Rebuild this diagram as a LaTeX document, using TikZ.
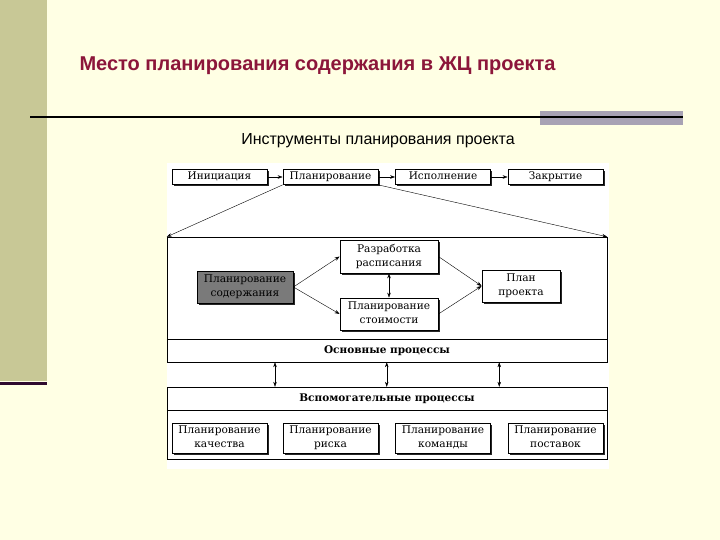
\documentclass[tikz,border=0pt]{standalone}
\usepackage{fontspec}
\setmainfont{DejaVu Serif}
\newfontfamily\slidefont{Liberation Sans}
\usetikzlibrary{arrows.meta,shadows,calc}

\definecolor{slidebg}{RGB}{255,255,228}
\definecolor{olivebar}{RGB}{200,200,150}
\definecolor{darkplum}{RGB}{46,10,46}
\definecolor{titlered}{RGB}{140,22,58}
\definecolor{rulegray}{RGB}{168,162,180}

\tikzset{
  phase/.style={draw, thick, fill=white, minimum width=95pt, minimum height=15pt,
    inner sep=0pt, text height=7.5pt, text depth=2pt, font=\fontsize{10.5}{11}\selectfont,
    drop shadow={shadow xshift=1.5pt, shadow yshift=-1.5pt, fill=black, opacity=0.85}},
  proc/.style={draw, thick, fill=white, minimum width=98pt, minimum height=32pt,
    inner sep=0pt, align=center, text depth=2.5pt, font=\fontsize{10.6}{14}\selectfont,
    drop shadow={shadow xshift=1.5pt, shadow yshift=-1.5pt, fill=black, opacity=0.85}},
  grouplbl/.style={font=\bfseries\fontsize{10.5}{11}\selectfont},
  arr/.style={-{Stealth[length=5pt,width=3.5pt]}},
  darr/.style={{Stealth[length=5pt,width=3.5pt]}-{Stealth[length=5pt,width=3.5pt]}},
}

\begin{document}
\begin{tikzpicture}[x=1pt,y=-1pt]
  \useasboundingbox (0,0) rectangle (720,540);
  \fill[slidebg] (0,0) rectangle (720,540);
  % slide decoration
  \fill[olivebar] (0,0) rectangle (47,381);
  \fill[darkplum] (0,381.5) rectangle (47,385);
  \fill[rulegray] (540,111) rectangle (683,125);
  \draw[line width=1.8pt] (30,117) -- (683,117);
  \node[anchor=west, text=titlered, font=\slidefont\bfseries\fontsize{20}{22}\selectfont] (title) at (76,66)
    {Место планирования содержания в ЖЦ проекта};
  \node[font=\slidefont\fontsize{16}{18}\selectfont] (subtitle) at (378,141)
    {Инструменты планирования проекта};

  % picture area
  \fill[white] (167,163) rectangle (609,469);

  % phases
  \node[phase] (init) at (219.5,177) {Инициация};
  \node[phase] (plan) at (330.5,177) {Планирование};
  \node[phase] (exec) at (443,177)   {Исполнение};
  \node[phase] (close) at (555.5,177) {Закрытие};
  \draw[arr] (init) -- (plan);
  \draw[arr] (plan) -- (exec);
  \draw[arr] (exec) -- (close);

  % main processes
  \node[draw, fill=white, minimum width=440pt, minimum height=125pt, inner sep=0pt] (main) at (387,299.5) {};
  \draw (main.west |- 0,339) -- (main.east |- 0,339);
  \node[grouplbl] (mainlbl) at (387,351) {Основные процессы};
  \draw[arr] (plan.south west) -- (main.north west);
  \draw[arr] (plan.south east) -- (main.north east);

  \node[proc, fill=black!52, minimum width=96pt] (scope) at (245,287) {Планирование\\содержания};
  \node[proc, minimum height=33pt] (sched) at (389,256.5) {Разработка\\расписания};
  \node[proc] (cost) at (389,314) {Планирование\\стоимости};
  \node[proc, minimum width=78pt] (pplan) at (521,286) {План\\проекта};
  \draw[arr] (scope.east) -- (sched.west);
  \draw[arr] (scope.east) -- (cost.west);
  \draw[arr] (sched.east) -- (pplan.west);
  \draw[arr] (cost.east) -- (pplan.west);
  \draw[darr] (sched) -- (cost);

  % support processes
  \node[draw, fill=white, minimum width=440pt, minimum height=72pt, inner sep=0pt] (aux) at (387,423) {};
  \draw (aux.west |- 0,410) -- (aux.east |- 0,410);
  \node[grouplbl] (auxlbl) at (387,399) {Вспомогательные процессы};

  \node[proc, minimum width=95pt, minimum height=30pt] (qual) at (219.5,438) {Планирование\\качества};
  \node[proc, minimum width=95pt, minimum height=30pt] (risk) at (330.5,438) {Планирование\\риска};
  \node[proc, minimum width=95pt, minimum height=30pt] (team) at (443,438)   {Планирование\\команды};
  \node[proc, minimum width=95pt, minimum height=30pt] (supp) at (555.5,438) {Планирование\\поставок};

  \coordinate (l1) at ($(qual)!0.5!(risk)$);
  \coordinate (l2) at ($(risk)!0.5!(team)$);
  \coordinate (l3) at ($(team)!0.5!(supp)$);
  \draw[darr] (main.south -| l1) -- (aux.north -| l1);
  \draw[darr] (main.south -| l2) -- (aux.north -| l2);
  \draw[darr] (main.south -| l3) -- (aux.north -| l3);
\end{tikzpicture}
\end{document}
